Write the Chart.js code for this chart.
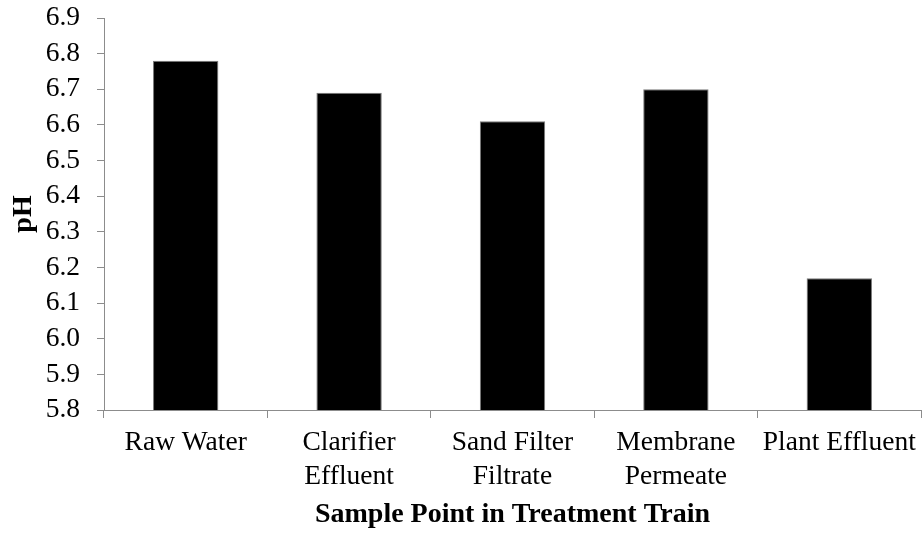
<!DOCTYPE html>
<html>
<head>
<meta charset="utf-8">
<script src="https://cdn.jsdelivr.net/npm/chart.js@4/dist/chart.umd.min.js"></script>
<style>
  html, body { margin: 0; padding: 0; background: #ffffff; }
  #wrap { width: 922px; height: 533px; }
</style>
</head>
<body>
<div id="wrap"><canvas id="c" width="922" height="533"></canvas></div>
<script>
const categories = [
  "Raw Water",
  ["Clarifier", "Effluent"],
  ["Sand Filter", "Filtrate"],
  ["Membrane", "Permeate"],
  "Plant Effluent"
];
const phValues = [6.78, 6.69, 6.61, 6.70, 6.17];
const yMin = 5.8;
const yMax = 6.9;
const yStep = 0.1;
const xTitle = "Sample Point in Treatment Train";
const yTitle = "pH";

const serif = "'Liberation Serif', 'Times New Roman', serif";
const axisGrey = '#8c8c8c';

new Chart(document.getElementById('c'), {
  type: 'bar',
  data: {
    labels: categories,
    datasets: [{
      data: phValues,
      backgroundColor: '#000000',
      borderColor: '#7a7a7a',
      borderWidth: 1,
      barPercentage: 0.4,
      categoryPercentage: 1.0
    }]
  },
  options: {
    responsive: false,
    animation: false,
    layout: { padding: { top: 18, right: 1, bottom: 0, left: 0 } },
    plugins: {
      legend: { display: false },
      tooltip: { enabled: false }
    },
    scales: {
      x: {
        offset: true,
        grid: {
          display: true,
          offset: true,
          drawOnChartArea: false,
          drawTicks: true,
          tickLength: 8,
          color: axisGrey,
          tickColor: axisGrey
        },
        border: { display: true, color: axisGrey, width: 1 },
        ticks: {
          color: '#000000',
          padding: 8.4,
          maxRotation: 0,
          autoSkip: false,
          font: { family: serif, size: 27.5, lineHeight: 1.21 }
        },
        title: {
          display: true,
          text: xTitle,
          color: '#000000',
          padding: { top: 0, bottom: 1.2 },
          font: { family: serif, size: 28, weight: 'bold', lineHeight: 1.2 }
        },
        afterFit: (s) => { s.height = 123; s.paddingLeft = 0; s.paddingRight = 0; }
      },
      y: {
        min: yMin,
        max: yMax,
        grid: {
          display: true,
          drawOnChartArea: false,
          drawTicks: true,
          tickLength: 7,
          color: axisGrey,
          tickColor: axisGrey
        },
        border: { display: true, color: axisGrey, width: 1 },
        ticks: {
          stepSize: yStep,
          autoSkip: false,
          color: '#000000',
          padding: 17,
          font: { family: serif, size: 27.5, lineHeight: 1.2 },
          callback: (v) => Number(v).toFixed(1)
        },
        title: {
          display: true,
          text: yTitle,
          color: '#000000',
          padding: { top: 6.7, bottom: 0 },
          font: { family: serif, size: 28, weight: 'bold', lineHeight: 1.2 }
        },
        afterFit: (s) => { s.width = 104; s.paddingTop = 0; s.paddingBottom = 0; }
      }
    }
  }
});
</script>
</body>
</html>
